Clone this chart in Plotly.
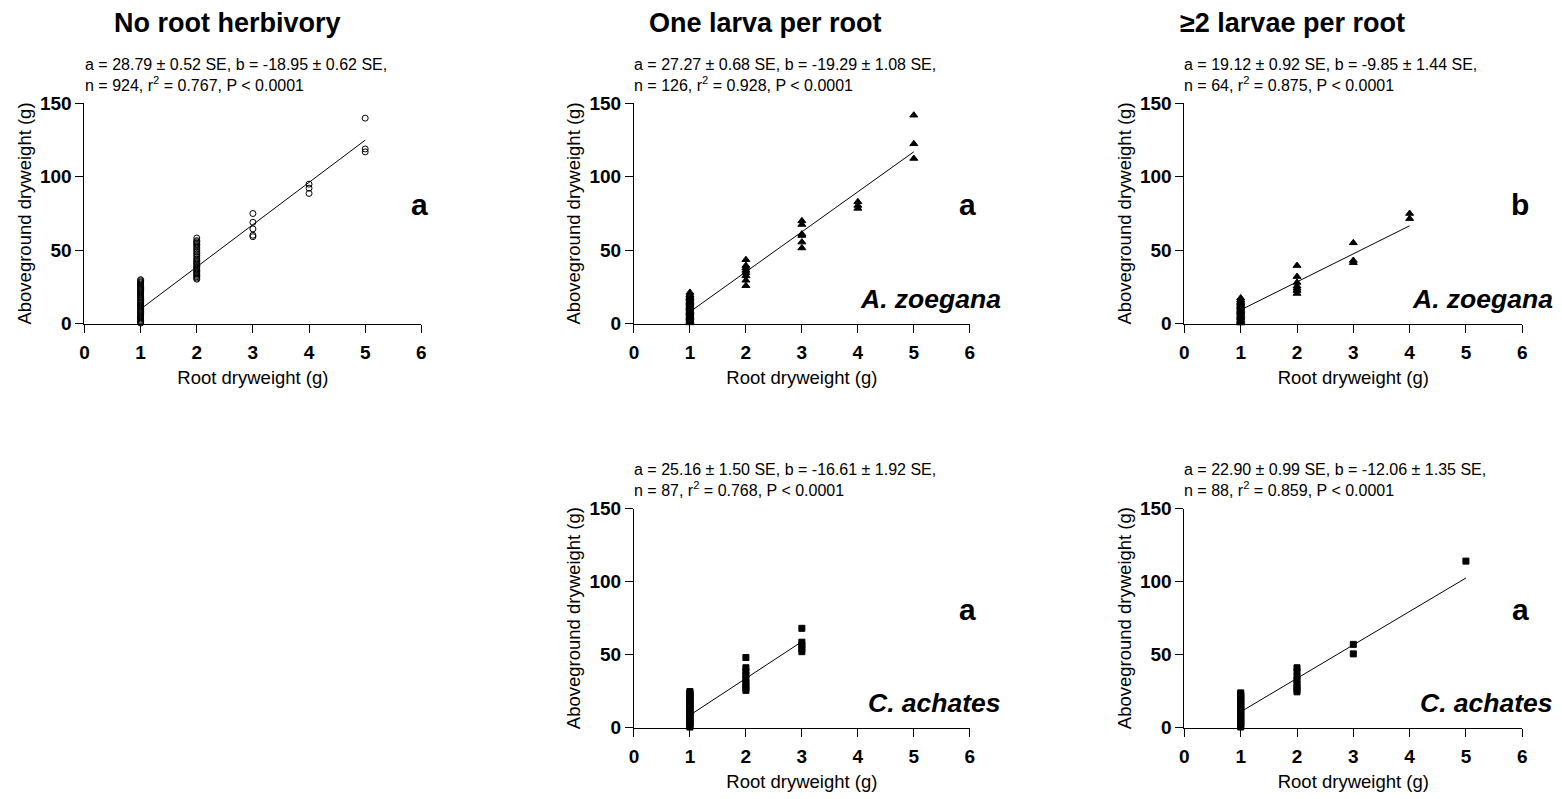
import plotly.graph_objects as go

W, H = 1562, 799
FONT = "Arial, Liberation Sans, sans-serif"

# ---------------- data ----------------
col_titles = ["No root herbivory", "One larva per root", "\u22652 larvae per root"]
x_ticks = [0, 1, 2, 3, 4, 5, 6]
y_ticks = [0, 50, 100, 150]
x_label = "Root dryweight (g)"
y_label = "Aboveground dryweight (g)"

# Panel 1: no root herbivory (open circles)
p1_x = [1]*41 + [2]*30 + [3]*5 + [4]*3 + [5]*3
p1_y = [0.3, 0.9, 1.6, 2.2, 3.1, 3.8, 4.4, 5.2, 6.0, 6.7, 7.5, 8.1, 8.9, 9.6, 10.4,
        11.2, 11.9, 12.6, 13.5, 14.1, 14.8, 15.7, 16.3, 17.2, 17.9, 18.6, 19.4, 20.1,
        20.9, 21.6, 22.4, 23.1, 23.9, 24.6, 25.4, 26.2, 26.9, 27.7, 28.4, 29.2, 29.9,
        30.2, 31.0, 31.9, 32.8, 33.6, 34.5, 35.3, 36.2, 37.1, 37.9, 38.8, 39.6, 40.5,
        41.3, 42.2, 43.1, 44.0, 45.2, 46.3, 47.5, 48.6, 49.8, 50.9, 52.0, 53.1, 54.0,
        54.9, 55.7, 56.5, 58.3,
        75.0, 69.0, 64.5, 60.2, 59.2,
        95.0, 92.3, 88.7,
        140.0, 119.0, 117.0]
p1_fit_x = [1, 5]
p1_fit_y = [9.84, 125.0]
p1_stats = "a = 28.79 \u00b1 0.52 SE, b = -18.95 \u00b1 0.62 SE,<br>n = 924, r<sup>2</sup> = 0.767, P < 0.0001"

# Panel 2: one larva per root, A. zoegana (triangles)
p2_x = [1]*24 + [2]*8 + [3]*6 + [4]*3 + [5]*3
p2_y = [0.4, 1.2, 2.1, 2.9, 3.8, 4.6, 5.5, 6.3, 7.2, 8.0, 8.9, 9.7, 10.6, 11.4,
        12.3, 13.1, 14.0, 14.9, 15.7, 16.6, 17.5, 18.4, 19.6, 21.2,
        43.5, 39.5, 37.8, 36.2, 34.5, 32.5, 29.5, 25.8,
        70.0, 67.5, 61.0, 60.0, 55.5, 51.5,
        83.0, 80.5, 78.5,
        142.0, 122.5, 112.5]
p2_fit_x = [1, 5]
p2_fit_y = [7.98, 117.06]
p2_stats = "a = 27.27 \u00b1 0.68 SE, b = -19.29 \u00b1 1.08 SE,<br>n = 126, r<sup>2</sup> = 0.928, P < 0.0001"

# Panel 3: >=2 larvae per root, A. zoegana (triangles)
p3_x = [1]*20 + [2]*7 + [3]*3 + [4]*2
p3_y = [0.3, 1.1, 1.9, 2.7, 3.6, 4.4, 5.3, 6.1, 7.0, 7.8, 8.7, 9.5, 10.4, 11.2,
        12.1, 13.0, 13.9, 14.9, 16.0, 17.4,
        39.5, 32.0, 28.0, 25.5, 24.0, 22.5, 20.5,
        55.0, 43.0, 41.5,
        75.0, 71.5]
p3_fit_x = [1, 4]
p3_fit_y = [9.27, 66.63]
p3_stats = "a = 19.12 \u00b1 0.92 SE, b = -9.85 \u00b1 1.44 SE,<br>n = 64, r<sup>2</sup> = 0.875, P < 0.0001"

# Panel 4: one larva per root, C. achates (squares)
p4_x = [1]*28 + [2]*9 + [3]*5
p4_y = [0.4, 1.3, 2.2, 3.1, 4.0, 4.9, 5.8, 6.7, 7.6, 8.5, 9.4, 10.3, 11.2, 12.1,
        13.0, 13.9, 14.8, 15.7, 16.6, 17.5, 18.4, 19.3, 20.2, 21.1, 22.0, 22.9,
        23.8, 24.7,
        48.0, 41.0, 38.5, 36.0, 33.5, 31.0, 29.0, 27.0, 25.5,
        68.0, 58.5, 56.5, 54.0, 52.0]
p4_fit_x = [1, 3]
p4_fit_y = [8.55, 58.87]
p4_stats = "a = 25.16 \u00b1 1.50 SE, b = -16.61 \u00b1 1.92 SE,<br>n = 87, r<sup>2</sup> = 0.768, P < 0.0001"

# Panel 5: >=2 larvae per root, C. achates (squares)
p5_x = [1]*27 + [2]*8 + [3]*2 + [5]
p5_y = [0.4, 1.3, 2.2, 3.1, 4.0, 4.9, 5.8, 6.7, 7.6, 8.5, 9.4, 10.3, 11.2, 12.1,
        13.0, 13.9, 14.8, 15.7, 16.6, 17.5, 18.4, 19.3, 20.2, 21.1, 22.0, 22.9,
        23.8,
        41.0, 38.5, 35.0, 32.5, 30.0, 28.0, 26.0, 24.5,
        57.0, 50.5,
        114.0]
p5_fit_x = [1, 5]
p5_fit_y = [10.84, 102.44]
p5_stats = "a = 22.90 \u00b1 0.99 SE, b = -12.06 \u00b1 1.35 SE,<br>n = 88, r<sup>2</sup> = 0.859, P < 0.0001"

letters = ["a", "a", "b", "a", "a"]
species = [None, "A. zoegana", "A. zoegana", "C. achates", "C. achates"]

# ---------------- layout helpers ----------------
def px(x):
    return x / W

def py(y):
    return 1 - y / H

# axis pixel boxes: (left, right, top, bottom)
boxes = [
    (80, 419, 96, 322),
    (633, 971, 96, 322),
    (1187, 1527, 96, 322),
    (633, 971, 512, 737),
    (1187, 1527, 512, 737),
]

panels = [
    (p1_x, p1_y, p1_fit_x, p1_fit_y, p1_stats, "circle-open", 6),
    (p2_x, p2_y, p2_fit_x, p2_fit_y, p2_stats, "triangle-up", 7),
    (p3_x, p3_y, p3_fit_x, p3_fit_y, p3_stats, "triangle-up", 7),
    (p4_x, p4_y, p4_fit_x, p4_fit_y, p4_stats, "square", 6),
    (p5_x, p5_y, p5_fit_x, p5_fit_y, p5_stats, "square", 6),
]

fig = go.Figure()
annotations = []
layout_axes = {}

for i, (xs, ys, fx, fy, stats, sym, msize) in enumerate(panels):
    n = i + 1
    xa = "x" if n == 1 else f"x{n}"
    ya = "y" if n == 1 else f"y{n}"
    xkey = "xaxis" if n == 1 else f"xaxis{n}"
    ykey = "yaxis" if n == 1 else f"yaxis{n}"
    l, r, t, b = boxes[i]

    fig.add_trace(go.Scatter(
        x=xs, y=ys, mode="markers", xaxis=xa, yaxis=ya,
        marker=dict(symbol=sym, size=msize, color="black",
                    line=dict(color="black", width=1)),
        cliponaxis=False, showlegend=False, hoverinfo="x+y"))
    fig.add_trace(go.Scatter(
        x=fx, y=fy, mode="lines", xaxis=xa, yaxis=ya,
        line=dict(color="black", width=1), cliponaxis=False,
        showlegend=False, hoverinfo="skip"))

    common = dict(showline=True, linecolor="black", linewidth=1, ticks="outside",
                  ticklen=8, tickwidth=1, tickcolor="black", showgrid=False,
                  zeroline=False, fixedrange=True,
                  tickfont=dict(family=FONT, size=19, color="black", weight="bold"))
    layout_axes[xkey] = dict(
        common, domain=[px(l), px(r)], anchor=ya, range=[0, 6],
        tickmode="array", tickvals=x_ticks, ticklabelstandoff=4,
        title=dict(text=x_label, font=dict(family=FONT, size=18.5, color="black"),
                   standoff=8))
    layout_axes[ykey] = dict(
        common, domain=[py(b), py(t)], anchor=xa, range=[0, 150],
        tickmode="array", tickvals=y_ticks,
        title=dict(text=y_label, font=dict(family=FONT, size=18.5, color="black"),
                   standoff=3))

    # stats text
    annotations.append(dict(
        text=stats, xref="paper", yref="paper", x=px(l - 2), y=py(t - 29.5),
        xanchor="left", yanchor="middle", align="left", showarrow=False,
        font=dict(family=FONT, size=16, color="black")))
    # significance letter
    annotations.append(dict(
        text=f"<b>{letters[i]}</b>", xref="paper", yref="paper",
        x=px(r - 2), y=py(t + 104), xanchor="center", yanchor="middle",
        showarrow=False, font=dict(family=FONT, size=30, color="black")))
    # species label
    if species[i]:
        annotations.append(dict(
            text=f"<b><i>{species[i]}</i></b>", xref="paper", yref="paper",
            x=px(r + 33), y=py(b - 25), xanchor="right", yanchor="middle",
            showarrow=False, font=dict(family=FONT, size=26.5, color="black")))

# column titles
for ttl, cx in zip(col_titles, [224, 765, 1296]):
    annotations.append(dict(
        text=f"<b>{ttl}</b>", xref="paper", yref="paper", x=px(cx), y=py(13),
        xanchor="center", yanchor="middle", showarrow=False,
        font=dict(family=FONT, size=27, color="black")))

fig.update_layout(
    width=W, height=H, margin=dict(l=0, r=0, t=0, b=0),
    paper_bgcolor="white", plot_bgcolor="white",
    annotations=annotations, **layout_axes)

fig.write_html("out.html", config={"displayModeBar": False})
